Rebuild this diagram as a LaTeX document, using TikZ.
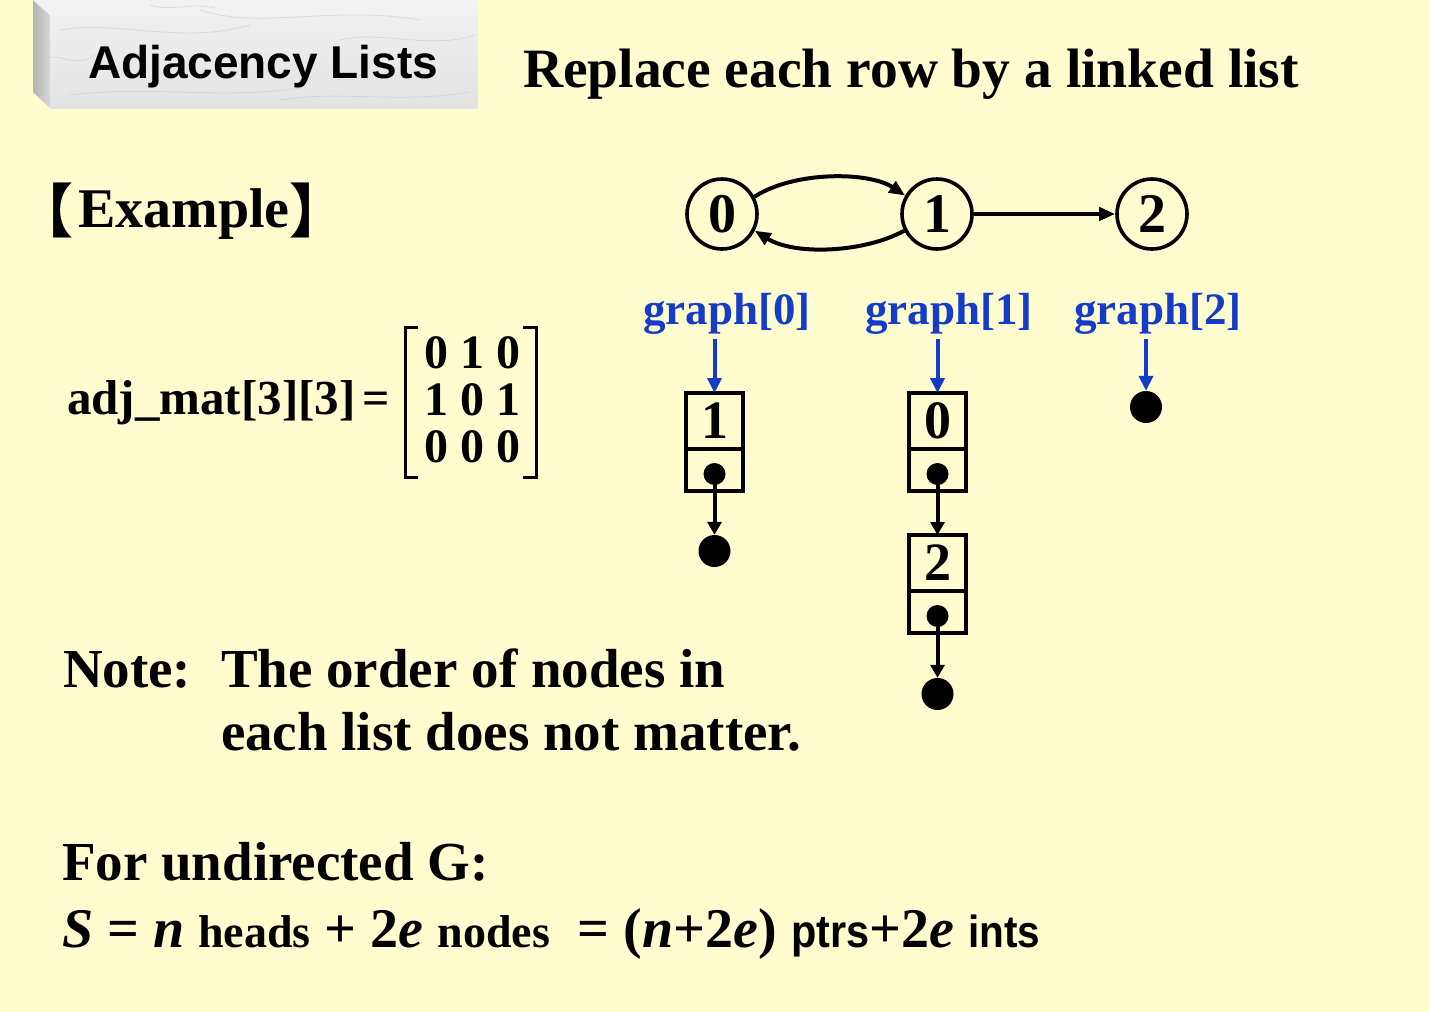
\documentclass[tikz,border=0pt]{standalone}
\usepackage{fontspec}
\setmainfont{Liberation Serif}
\newfontfamily\arialf{Liberation Sans}
\newfontfamily\narrowf[FakeStretch=0.9]{Liberation Sans}
\newfontfamily\cjkf{Noto Sans CJK SC}
\usetikzlibrary{arrows.meta}
\definecolor{bgyellow}{RGB}{255,252,208}
\definecolor{ptrblue}{RGB}{20,60,200}
\newcommand\fsz[1]{\fontsize{#1}{#1}\selectfont}
\begin{document}
\begin{tikzpicture}[x=1pt,y=-1pt,
  txt/.style={inner sep=0pt, outer sep=0pt, anchor=base west},
  vtx/.style={circle, draw, line width=3.6pt, minimum size=70pt, inner sep=0pt, font=\bfseries\fsz{56}},
  edge/.style={line width=4pt, -{Triangle[length=16pt,width=13pt]}},
  bluelbl/.style={inner sep=0pt, outer sep=0pt, anchor=base, text=ptrblue, font=\bfseries\fsz{45}},
  bluearr/.style={draw=ptrblue, line width=4pt, -{Triangle[length=15pt,width=14pt]}, ptrblue},
  valcell/.style={draw, line width=4pt, minimum width=57pt, minimum height=56pt, inner sep=0pt, outer sep=0pt, font=\bfseries\fsz{54}},
  ptrcell/.style={draw, line width=4pt, minimum width=57pt, minimum height=42pt, inner sep=0pt, outer sep=0pt},
  smalldot/.style={circle, fill, minimum size=22pt, inner sep=0pt},
  nulldot/.style={circle, fill, minimum size=32pt, inner sep=0pt},
  listarr/.style={line width=4pt, -{Triangle[length=13pt,width=14pt]}},
  streak/.style={gray!45, line width=0.8pt, opacity=0.5},
]
\useasboundingbox (0,0) rectangle (1430,1012);
\fill[bgyellow] (0,0) rectangle (1430,1012);

% title block (marble bevel)
\shade[left color=gray!60, right color=gray!30] (33,0) -- (50,15) -- (50,108) -- (33,92) -- cycle;
\fill[gray!10] (33,0) -- (478,0) -- (478,15) -- (50,15) -- cycle;
\shade[top color=gray!12, bottom color=gray!22] (50,15) rectangle (478,108);
\begin{scope}
\clip (33,0) -- (478,0) -- (478,108) -- (50,108) -- (33,92) -- cycle;
\draw[streak] (60,30) .. controls (120,20) and (180,45) .. (250,25);
\draw[streak] (200,10) .. controls (260,30) and (330,5) .. (420,20);
\draw[streak] (70,95) .. controls (150,85) and (220,100) .. (300,88);
\draw[streak] (280,100) .. controls (340,90) and (400,104) .. (470,92);
\draw[streak] (340,40) .. controls (380,30) and (430,50) .. (475,35);
\draw[streak] (40,60) .. controls (60,50) and (75,70) .. (95,55);
\draw[streak] (150,5) .. controls (170,12) and (190,2) .. (215,8);
\end{scope}
\node[txt, font=\arialf\bfseries\fsz{46}] (title) at (88,78) {Adjacency Lists};

\node[txt, font=\bfseries\fsz{55.5}] (repl) at (523,87) {Replace each row by a linked list};

% Example
\node[txt, font=\bfseries\fsz{56}] (ex) at (78,227) {Example};
\node[inner sep=0pt, anchor=base, font=\cjkf\bfseries\fsz{58}] (lb) at (45,232) {【};
\node[inner sep=0pt, anchor=base, font=\cjkf\bfseries\fsz{58}] (rb) at (318,232) {】};

% adjacency matrix
\node[txt, font=\bfseries\fsz{49}] (adj) at (67,414) {adj\_mat[3][3]};
\node[txt, font=\bfseries\fsz{48}] (eq) at (362,414) {=};
\node[txt, font=\bfseries\fsz{48}] (r1) at (424,368) {0 1 0};
\node[txt, font=\bfseries\fsz{48}] (r2) at (424,415) {1 0 1};
\node[txt, font=\bfseries\fsz{48}] (r3) at (424,462) {0 0 0};
\draw[line width=3pt] (418,327) -- (405,327) -- (405,477) -- (418,477);
\draw[line width=3pt] (523,327) -- (536,327) -- (536,477) -- (523,477);

% graph
\node[vtx] (c0) at (722,214) {0};
\node[vtx] (c1) at (937,214) {1};
\node[vtx] (c2) at (1152,214) {2};
\draw[edge] (c0.28) .. controls +(40,-26) and +(-36,-24) .. (c1.150);
\draw[edge] (c1.207) .. controls +(-40,22) and +(40,25) .. (c0.333);
\draw[edge] (c1.east) -- (c2.west);

% head labels
\node[bluelbl] (g0) at (727,324) {graph[0]};
\node[bluelbl] (g1) at (949,324) {graph[1]};
\node[bluelbl] (g2) at (1158,324) {graph[2]};

% list 0
\node[valcell] (a0) at (714.5,421) {1};
\node[ptrcell, anchor=north] (a0p) at (a0.south) {};
\node[smalldot] (a0d) at (714.5,474) {};
\node[nulldot] (a0n) at (714.5,551) {};
% list 1
\node[valcell] (b0) at (937.5,421) {0};
\node[ptrcell, anchor=north] (b0p) at (b0.south) {};
\node[smalldot] (b0d) at (937.5,474) {};
\node[valcell] (b1) at (937.5,563) {2};
\node[ptrcell, anchor=north] (b1p) at (b1.south) {};
\node[smalldot] (b1d) at (937.5,616) {};
\node[nulldot] (b1n) at (937.5,694) {};
% list 2
\node[nulldot] (c2n) at (1146,407) {};

\draw[bluearr] ([yshift=-5pt]g0.south -| a0.north) -- (a0.north);
\draw[bluearr] ([yshift=-5pt]g1.south -| b0.north) -- (b0.north);
\draw[bluearr] ([yshift=-5pt]g2.south -| c2n.north) -- (c2n.north);

\draw[listarr] (a0d.center) -- (a0n.north);
\draw[listarr] (b0d.center) -- (b1.north);
\draw[listarr] (b1d.center) -- (b1n.north);

% note
\node[txt, font=\bfseries\fsz{55}] (note) at (63,687) {Note:};
\node[txt, font=\bfseries\fsz{55}] (note1) at (221,687) {The order of nodes in};
\node[txt, font=\bfseries\fsz{55}] (note2) at (221,750) {each list does not matter.};

% undirected
\node[txt, font=\bfseries\fsz{55}] (und) at (62,880) {For undirected G:};
\node[txt, font=\bfseries\fsz{56}] (form) at (62,947)
 {\textit{S} = \textit{n} {\fsz{46}heads} + 2\textit{e} {\fsz{46}nodes}\ \ = (\textit{n}+2\textit{e}) {\narrowf\fsz{46}ptrs}+2\textit{e} {\narrowf\fsz{45}ints}};
\end{tikzpicture}
\end{document}
